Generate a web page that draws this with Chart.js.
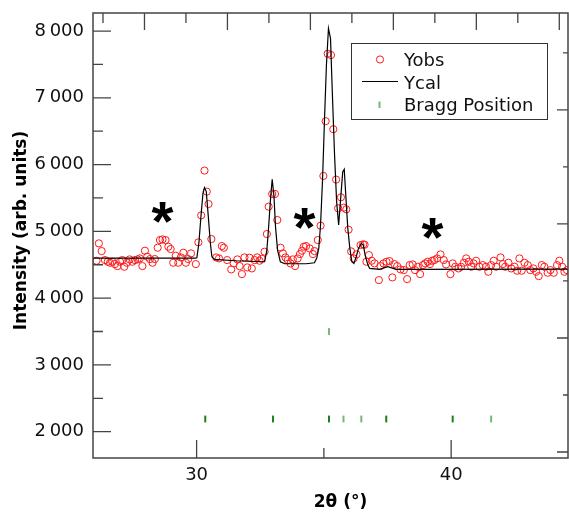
<!DOCTYPE html>
<html>
<head>
<meta charset="utf-8">
<script src="https://cdn.jsdelivr.net/npm/chart.js@4.4.1/dist/chart.umd.min.js"></script>
<style>
  html, body { margin: 0; padding: 0; background: #fff; }
</style>
</head>
<body>
<canvas id="xrd" width="569" height="513"></canvas>
<script>
/* ---------- data ---------- */

// observed points (2theta, intensity)
const obsX = [
  26.07, 26.16, 26.27, 26.40, 26.51, 26.60, 26.69, 26.79, 26.89, 26.99,
  27.08, 27.16, 27.26, 27.37, 27.48, 27.58, 27.68, 27.77, 27.87, 27.97,
  28.06, 28.17, 28.27, 28.36, 28.47, 28.56, 28.66, 28.78, 28.89, 28.98,
  29.08, 29.18, 29.28, 29.38, 29.48, 29.58, 29.67, 29.78, 29.97, 30.07,
  30.18, 30.31, 30.40, 30.47, 30.58, 30.77, 30.88, 30.99, 31.07, 31.20,
  31.36, 31.46, 31.60, 31.69, 31.78, 31.88, 31.99, 32.08, 32.17, 32.28,
  32.38, 32.47, 32.56, 32.67, 32.76, 32.83, 32.97, 33.08, 33.17, 33.30,
  33.39, 33.49, 33.58, 33.69, 33.78, 33.87, 33.97, 34.06, 34.14, 34.21,
  34.30, 34.44, 34.57, 34.63, 34.76, 34.87, 34.98, 35.07, 35.15, 35.28,
  35.37, 35.48, 35.56, 35.67, 35.78, 35.88, 35.97, 36.07, 36.17, 36.28,
  36.44, 36.54, 36.60, 36.67, 36.77, 36.88, 36.99, 37.16, 37.22, 37.34,
  37.46, 37.58, 37.69, 37.77, 37.88, 38.01, 38.14, 38.27, 38.37, 38.49,
  38.58, 38.69, 38.78, 38.89, 38.98, 39.08, 39.17, 39.25, 39.34, 39.45,
  39.58, 39.71, 39.80, 39.97, 40.06, 40.16, 40.29, 40.39, 40.50, 40.59,
  40.69, 40.79, 40.88, 40.98, 41.11, 41.24, 41.37, 41.46, 41.57, 41.67,
  41.77, 41.94, 42.03, 42.12, 42.25, 42.36, 42.49, 42.59, 42.68, 42.77,
  42.88, 43.01, 43.11, 43.23, 43.34, 43.44, 43.56, 43.66, 43.79, 43.90,
  44.03, 44.16, 44.25, 44.36, 44.45, 44.55
];
const obsY = [
  4560, 4820, 4705, 4570, 4545, 4530, 4545, 4510, 4480, 4545,
  4570, 4470, 4530, 4580, 4545, 4570, 4580, 4595, 4480, 4710,
  4620, 4585, 4530, 4585, 4755, 4870, 4880, 4870, 4770, 4735,
  4530, 4635, 4530, 4610, 4680, 4530, 4585, 4670, 4510, 4835,
  5240, 5910, 5595, 5410, 4885, 4610, 4595, 4780, 4755, 4570,
  4430, 4520, 4580, 4480, 4360, 4610, 4460, 4605, 4445, 4570,
  4610, 4560, 4590, 4695, 4960, 5370, 5560, 5560, 5170, 4755,
  4670, 4610, 4570, 4520, 4580, 4480, 4595, 4660, 4710, 4770,
  4780, 4745, 4660, 4705, 4870, 5085, 5830, 6650, 7660, 7640,
  6530, 5775, 5345, 5510, 5355, 5330, 5025, 4700, 4595, 4655,
  4795, 4805, 4800, 4545, 4645, 4560, 4520, 4270, 4480, 4520,
  4545, 4555, 4310, 4510, 4480, 4430, 4420, 4285, 4495, 4505,
  4420, 4470, 4360, 4495, 4520, 4545, 4510, 4560, 4570, 4595,
  4655, 4570, 4505, 4360, 4520, 4470, 4445, 4470, 4530, 4595,
  4545, 4470, 4520, 4560, 4470, 4495, 4470, 4395, 4495, 4560,
  4470, 4610, 4510, 4470, 4530, 4445, 4470, 4410, 4595, 4410,
  4530, 4495, 4420, 4445, 4395, 4330, 4495, 4470, 4380, 4420,
  4380, 4495, 4560, 4470, 4395, 4420
];

// calculated profile
const calX = [
  25.93, 29.95, 30.01, 30.09, 30.17, 30.25, 30.31, 30.38, 30.46, 30.54,
  30.60, 30.71, 31.50, 32.60, 32.67, 32.76, 32.83, 32.91, 32.97, 33.04,
  33.10, 33.18, 33.29, 33.46, 34.30, 34.63, 34.72, 34.80, 34.87, 34.95,
  35.03, 35.10, 35.18, 35.26, 35.34, 35.42, 35.50, 35.58, 35.65, 35.74,
  35.80, 35.86, 35.94, 36.02, 36.10, 36.18, 36.27, 36.36, 36.47, 36.55,
  36.62, 36.73, 36.80, 37.18, 37.51, 37.84, 44.59
];
const calY = [
  4600, 4600, 4605, 4825, 5220, 5570, 5655, 5595, 5220, 4825,
  4620, 4580, 4560, 4545, 4545, 4720, 5070, 5520, 5780, 5520,
  5070, 4720, 4545, 4515, 4515, 4530, 4600, 4750, 5100, 5800,
  6740, 7490, 8040, 7890, 6990, 6140, 5445, 5095, 5445, 5890,
  5930, 5545, 5045, 4745, 4545, 4520, 4620, 4745, 4820, 4795,
  4645, 4495, 4445, 4430, 4470, 4430, 4435
];

// Bragg reflections
const braggX = [30.34, 33.00, 35.20, 35.77, 36.47, 37.45, 40.06, 41.57, 35.20];
const braggY = [2190, 2190, 2190, 2190, 2190, 2190, 2190, 2190, 3500];
const braggTone = ['dark', 'dark', 'dark', 'light', 'light', 'dark', 'dark', 'light', 'light'];

// asterisk markers
const starX = [28.66, 34.24, 39.27];
const starY = [5281, 5187, 5045];

// axis ranges and ticks
const xMin = 25.93, xMax = 44.59;
const yMin = 1606, yMax = 8270;
const xTickVals = [30, 35, 40];
const yTickVals = [2000, 2500, 3000, 3500, 4000, 4500, 5000, 5500, 6000, 6500, 7000, 7500, 8000];
const topTickVals = [0, 1, 2, 3, 4, 5, 6, 7, 8, 9, 10, 11];
const rightTickVals = [0, 1, 2, 3, 4, 5, 6, 7];

const xTitle = '2θ (°)';
const yTitle = 'Intensity (arb. units)';
const legendItems = ['Yobs', 'Ycal', 'Bragg Position'];

/* ---------- colours ---------- */
const RED = '#ff1a1a';
const GREEN_DARK = '#1d7f1d';
const GREEN_LIGHT = '#72bb72';
const FRAME = '#444444';

Chart.defaults.font.family = "'DejaVu Sans', sans-serif";
Chart.defaults.color = '#111';

/* ---------- plugins ---------- */

// frame with inward ticks on all four sides
const frameTicks = {
  id: 'frameTicks',
  afterDatasetsDraw(chart) {
    const { ctx, chartArea: a, scales } = chart;
    ctx.save();
    ctx.strokeStyle = FRAME;
    ctx.lineWidth = 1.3;
    ctx.beginPath();

    xTickVals.forEach(v => {
      const p = scales.x.getPixelForValue(v);
      const len = v % 10 === 0 ? 18 : 10;
      ctx.moveTo(p, a.bottom); ctx.lineTo(p, a.bottom - len);
    });
    yTickVals.forEach(v => {
      const p = scales.y.getPixelForValue(v);
      const len = v % 1000 === 0 ? 18 : 10;
      ctx.moveTo(a.left, p); ctx.lineTo(a.left + len, p);
    });
    topTickVals.forEach(v => {
      const p = scales.x2.getPixelForValue(v);
      const len = v % 2 === 1 ? 17 : 10;
      ctx.moveTo(p, a.top); ctx.lineTo(p, a.top + len);
    });
    rightTickVals.forEach(v => {
      const p = scales.y2.getPixelForValue(v);
      const len = v % 2 === 0 ? 11 : 5;
      ctx.moveTo(a.right, p); ctx.lineTo(a.right - len, p);
    });
    ctx.stroke();

    ctx.lineWidth = 1.5;
    ctx.strokeRect(a.left, a.top, a.right - a.left, a.bottom - a.top);
    ctx.restore();
  }
};

// the three "*" marks
const asterisks = {
  id: 'asterisks',
  afterDatasetsDraw(chart) {
    const { ctx, scales } = chart;
    const fam = "'Liberation Sans', 'DejaVu Sans'";
    ctx.save();
    ctx.fillStyle = '#000';
    ctx.font = 'bold 100px ' + fam;
    let m = ctx.measureText('*');
    const w100 = m.actualBoundingBoxLeft + m.actualBoundingBoxRight;
    const size = 100 * 22 / w100;
    ctx.font = 'bold ' + size + 'px ' + fam;
    m = ctx.measureText('*');
    ctx.textAlign = 'left';
    ctx.textBaseline = 'alphabetic';
    starX.forEach((x, i) => {
      const px = scales.x.getPixelForValue(x);
      const py = scales.y.getPixelForValue(starY[i]);
      const cx = (m.actualBoundingBoxRight - m.actualBoundingBoxLeft) / 2;
      const cy = (m.actualBoundingBoxDescent - m.actualBoundingBoxAscent) / 2;
      ctx.fillText('*', px - cx, py - cy);
    });
    ctx.restore();
  }
};

// axis titles, placed where the original puts them
const axisTitles = {
  id: 'axisTitles',
  afterDraw(chart) {
    const { ctx, chartArea: a } = chart;
    ctx.save();
    ctx.fillStyle = '#000';
    ctx.font = "bold 17px 'DejaVu Sans'";
    ctx.textAlign = 'center';
    ctx.textBaseline = 'middle';
    ctx.fillText(xTitle, (a.left + a.right) / 2 + 10, 503);
    ctx.translate(22, (a.top + a.bottom) / 2 - 5);
    ctx.rotate(-Math.PI / 2);
    ctx.fillText(yTitle, 0, 0);
    ctx.restore();
  }
};

// boxed legend in the upper right corner
const boxLegend = {
  id: 'boxLegend',
  afterDraw(chart) {
    const { ctx } = chart;
    const L = 351, T = 43, W = 196, H = 76;
    ctx.save();
    ctx.fillStyle = '#fff';
    ctx.fillRect(L, T, W, H);
    ctx.strokeStyle = '#333';
    ctx.lineWidth = 1;
    ctx.strokeRect(L + 0.5, T + 0.5, W, H);

    // Yobs symbol
    ctx.strokeStyle = RED;
    ctx.beginPath();
    ctx.arc(380, 59.5, 3.6, 0, Math.PI * 2);
    ctx.stroke();
    // Ycal symbol
    ctx.strokeStyle = '#000';
    ctx.lineWidth = 1.2;
    ctx.beginPath();
    ctx.moveTo(362, 81.5); ctx.lineTo(398, 81.5);
    ctx.stroke();
    // Bragg symbol
    ctx.strokeStyle = GREEN_LIGHT;
    ctx.lineWidth = 2;
    ctx.beginPath();
    ctx.moveTo(379.5, 101.5); ctx.lineTo(379.5, 108);
    ctx.stroke();

    ctx.fillStyle = '#111';
    ctx.font = "18px 'DejaVu Sans'";
    ctx.textAlign = 'left';
    ctx.textBaseline = 'alphabetic';
    const base = [66, 89, 111];
    legendItems.forEach((s, i) => ctx.fillText(s, 404, base[i]));
    ctx.restore();
  }
};

/* ---------- chart ---------- */

const pts = (xs, ys) => xs.map((x, i) => ({ x: x, y: ys[i] }));
const noPad = s => { s.paddingTop = 0; s.paddingBottom = 0; s.paddingLeft = 0; s.paddingRight = 0; };

new Chart(document.getElementById('xrd').getContext('2d'), {
  type: 'scatter',
  data: {
    datasets: [
      {
        label: 'Yobs',
        data: pts(obsX, obsY),
        pointStyle: 'circle',
        pointRadius: 3.6,
        pointBorderWidth: 1,
        pointBorderColor: RED,
        pointBackgroundColor: 'rgba(0,0,0,0)',
        order: 2
      },
      {
        label: 'Ycal',
        type: 'line',
        data: pts(calX, calY),
        borderColor: '#000',
        borderWidth: 1.2,
        pointRadius: 0,
        tension: 0,
        fill: false,
        order: 1
      },
      {
        label: 'Bragg Position',
        data: pts(braggX, braggY),
        pointStyle: 'line',
        pointRotation: 90,
        pointRadius: 3.4,
        pointBorderWidth: 2,
        pointBorderColor: braggTone.map(t => t === 'dark' ? GREEN_DARK : GREEN_LIGHT),
        order: 3
      }
    ]
  },
  options: {
    responsive: false,
    animation: false,
    devicePixelRatio: 1,
    layout: { autoPadding: false, padding: { top: 13, right: 1, left: 0, bottom: 0 } },
    plugins: { legend: { display: false }, tooltip: { enabled: false } },
    scales: {
      x: {
        type: 'linear',
        position: 'bottom',
        min: xMin,
        max: xMax,
        grid: { display: false, drawTicks: false },
        border: { display: false },
        ticks: {
          autoSkip: false,
          maxRotation: 0,
          padding: 7,
          font: { size: 18 },
          callback: v => (v % 10 === 0 ? String(v) : '')
        },
        afterBuildTicks: s => { s.ticks = xTickVals.map(v => ({ value: v })); },
        afterFit: s => { s.height = 55; noPad(s); }
      },
      y: {
        type: 'linear',
        position: 'left',
        min: yMin,
        max: yMax,
        grid: { display: false, drawTicks: false },
        border: { display: false },
        ticks: {
          autoSkip: false,
          padding: 9,
          font: { size: 18 },
          callback: v => (v % 1000 === 0 ? (v / 1000) + '\u2009000' : '')
        },
        afterBuildTicks: s => { s.ticks = yTickVals.map(v => ({ value: v })); },
        afterFit: s => { s.width = 93; noPad(s); }
      },
      x2: {
        type: 'linear',
        position: 'top',
        display: false,
        min: -0.241,
        max: 11.21,
        afterFit: s => { s.height = 0; noPad(s); }
      },
      y2: {
        type: 'linear',
        position: 'right',
        display: false,
        min: -0.105,
        max: 7.70,
        afterFit: s => { s.width = 0; noPad(s); }
      }
    }
  },
  plugins: [frameTicks, asterisks, axisTitles, boxLegend]
});
</script>
</body>
</html>
